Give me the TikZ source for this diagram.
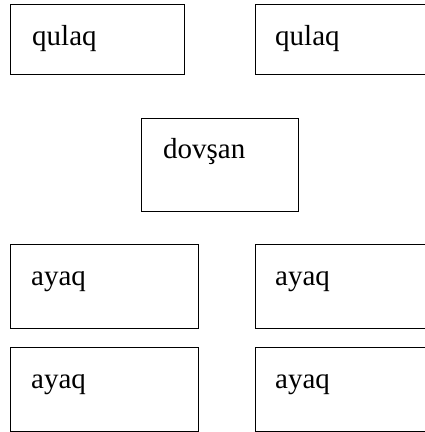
\documentclass[tikz,border=0pt]{standalone}
\usepackage{fontspec}
\setmainfont{Liberation Serif}
\usetikzlibrary{calc}
\begin{document}
\begin{tikzpicture}[x=1pt,y=-1pt,
  boxnode/.style={draw=black, line width=1.4pt, rectangle, inner sep=0pt, anchor=north west},
  txt/.style={anchor=base west, inner sep=0pt, font=\fontsize{29}{34}\selectfont}]
\useasboundingbox (0,0) rectangle (425,432);
\clip (0,0) rectangle (425,432);
% boxes
\node[boxnode, minimum width=174pt, minimum height=70pt] (q1) at (10,4) {};
\node[boxnode, minimum width=174pt, minimum height=70pt] (q2) at (255,4) {};
\node[boxnode, minimum width=157pt, minimum height=93pt] (d) at (141,118) {};
\node[boxnode, minimum width=188pt, minimum height=84pt] (a1) at (10,244) {};
\node[boxnode, minimum width=188pt, minimum height=84pt] (a2) at (255,244) {};
\node[boxnode, minimum width=188pt, minimum height=84pt] (a3) at (10,347) {};
\node[boxnode, minimum width=188pt, minimum height=84pt] (a4) at (255,347) {};
% texts
\node[txt] (tq1) at ($(q1.north west)+(22,41)$) {qulaq};
\node[txt] (tq2) at ($(q2.north west)+(20,41)$) {qulaq};
\node[txt] (td) at ($(d.north west)+(22,40)$) {dovşan};
\node[txt] (ta1) at ($(a1.north west)+(21,41)$) {ayaq};
\node[txt] (ta2) at ($(a2.north west)+(20,41)$) {ayaq};
\node[txt] (ta3) at ($(a3.north west)+(21,41)$) {ayaq};
\node[txt] (ta4) at ($(a4.north west)+(20,41)$) {ayaq};
\end{tikzpicture}
\end{document}
